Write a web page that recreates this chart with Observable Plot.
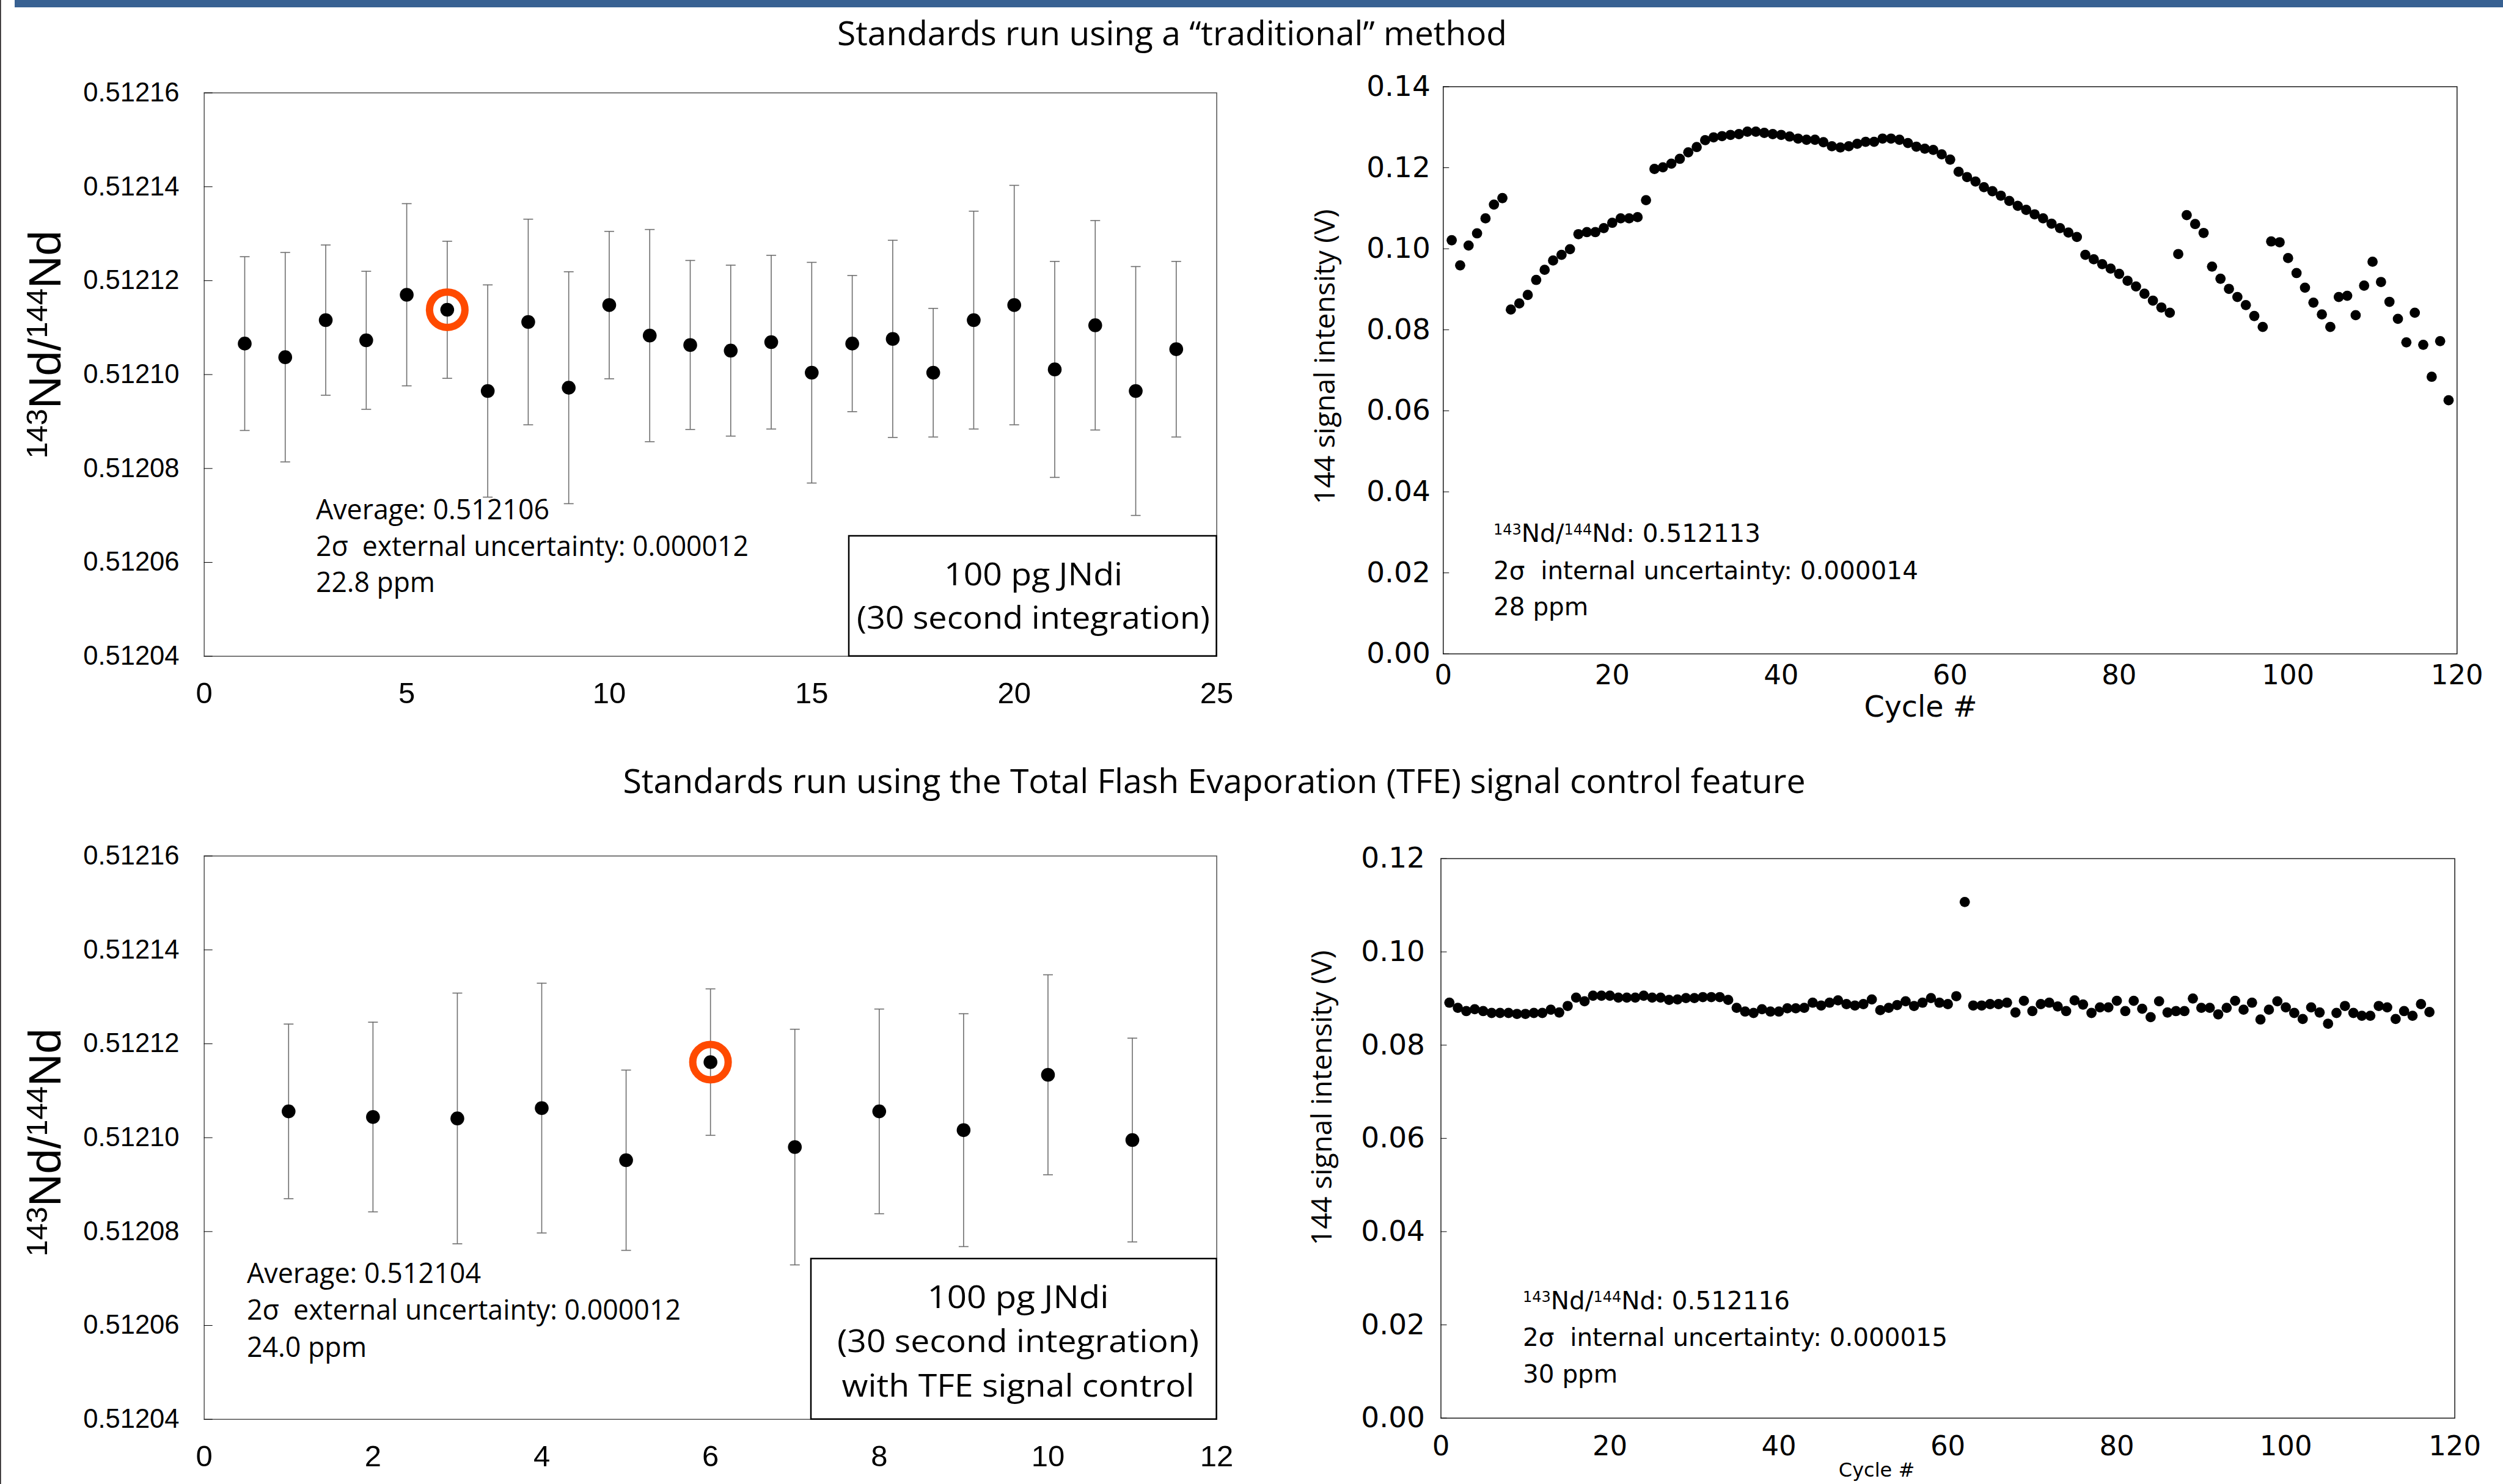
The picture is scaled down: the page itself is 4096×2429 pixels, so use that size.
<!DOCTYPE html>
<html><head><meta charset="utf-8">
<script src="https://cdn.jsdelivr.net/npm/d3@7"></script>
<script src="https://cdn.jsdelivr.net/npm/@observablehq/plot@0.6"></script>
<style>
html,body{margin:0;padding:0;background:#fff;}
#page{position:relative;width:4096px;height:2429px;overflow:hidden;background:#fff;}
</style></head><body><div id="page"></div>
<script>
// ---------------- DATA ----------------
const topRuns = [1,2,3,4,5,6,7,8,9,10,11,12,13,14,15,16,17,18,19,20,21,22,23,24];
const topRatio = [0.5121066,0.5121037,0.5121116,0.5121073,0.5121170,0.5121138,0.5120965,0.5121112,0.5120972,0.5121148,0.5121083,0.5121063,0.5121051,0.5121069,0.5121004,0.5121066,0.5121076,0.5121004,0.5121116,0.5121148,0.5121011,0.5121105,0.5120965,0.5121054];
const topErr = [0.0000185,0.0000223,0.0000160,0.0000147,0.0000194,0.0000146,0.0000226,0.0000219,0.0000247,0.0000157,0.0000226,0.0000180,0.0000182,0.0000185,0.0000235,0.0000145,0.0000210,0.0000137,0.0000232,0.0000255,0.0000230,0.0000223,0.0000265,0.0000187];
const topHighlightRun = 6;

const bottomRuns = [1,2,3,4,5,6,7,8,9,10,11];
const bottomRatio = [0.5121056,0.5121044,0.5121041,0.5121063,0.5120952,0.5121161,0.5120980,0.5121056,0.5121016,0.5121134,0.5120995];
const bottomErr = [0.0000186,0.0000202,0.0000267,0.0000266,0.0000192,0.0000156,0.0000251,0.0000218,0.0000248,0.0000213,0.0000217];
const bottomHighlightRun = 6;

const topSignal = [
 0.1021,0.0959,0.1008,0.1038,0.1075,0.1109,0.1125,
 0.0850,0.0865,0.0886,0.0923,0.0948,0.0971,0.0985,0.0999,0.1036,0.1041,0.1041,0.1051,0.1064,0.1075,0.1075,0.1078,0.1120,
 0.1197,0.1201,0.1210,0.1222,0.1238,0.1251,0.1268,0.1275,0.1278,0.1281,0.1283,0.1289,0.1289,0.1286,0.1283,0.1281,
 0.1277,0.1272,0.1269,0.1269,0.1263,0.1253,0.1250,0.1253,0.1259,0.1264,0.1264,0.1272,0.1272,0.1269,0.1261,0.1252,0.1247,0.1244,0.1233,0.1220,
 0.1190,0.1177,0.1166,0.1152,0.1142,0.1131,0.1118,0.1106,0.1096,0.1085,0.1075,0.1062,0.1051,0.1040,0.1029,
 0.0985,0.0974,0.0962,0.0951,0.0938,0.0921,0.0907,0.0889,0.0872,0.0855,0.0842,
 0.0987,0.1083,0.1061,0.1039,0.0956,0.0926,0.0901,0.0881,0.0861,0.0834,0.0807,
 0.1018,0.1016,0.0977,0.0940,0.0904,0.0867,0.0838,0.0807,0.0881,0.0884,0.0836,0.0909,0.0968,0.0918,0.0869,0.0827,0.0769,0.0842,0.0763,0.0684,0.0772,0.0626];

const bottomSignal = [
 0.0891,0.0880,0.0873,0.0877,0.0873,0.0869,0.0869,0.0869,0.0867,0.0867,0.0869,0.0869,0.0876,0.0870,0.0884,0.0902,0.0894,0.0906,0.0906,0.0906,
 0.0902,0.0902,0.0902,0.0906,0.0902,0.0902,0.0897,0.0898,0.0901,0.0901,0.0903,0.0903,0.0903,0.0897,0.0880,0.0872,0.0869,0.0877,0.0872,0.0872,
 0.0879,0.0879,0.0880,0.0891,0.0885,0.0891,0.0896,0.0888,0.0885,0.0888,0.0898,0.0875,0.0880,0.0886,0.0894,0.0884,0.0891,0.0901,0.0891,0.0888,0.0905,0.1107,
 0.0885,0.0885,0.0888,0.0888,0.0891,0.0870,0.0895,0.0873,0.0888,0.0891,0.0883,0.0873,0.0896,0.0887,0.0869,0.0881,0.0881,0.0895,
 0.0873,0.0895,0.0878,0.0860,0.0894,0.0870,0.0873,0.0873,0.0900,0.0880,0.0880,0.0866,0.0880,0.0895,0.0876,0.0891,0.0855,0.0876,0.0894,0.0881,
 0.0869,0.0856,0.0881,0.0870,0.0846,0.0869,0.0884,0.0869,0.0863,0.0863,0.0884,0.0881,0.0856,0.0873,0.0863,0.0888,0.0871];

const ratioTicks = [0.51204,0.51206,0.51208,0.51210,0.51212,0.51214,0.51216];
const topRunTicks = [0,5,10,15,20,25];
const bottomRunTicks = [0,2,4,6,8,10,12];
const topSignalTicks = [0,0.02,0.04,0.06,0.08,0.10,0.12,0.14];
const bottomSignalTicks = [0,0.02,0.04,0.06,0.08,0.10,0.12];
const cycleTicks = [0,20,40,60,80,100,120];

// ---------------- DRAWING ----------------
const page = document.getElementById("page");
function place(svg, left, top) {
  svg.style.position = "absolute";
  svg.style.left = left + "px";
  svg.style.top = top + "px";
  svg.style.maxWidth = "none";
  page.appendChild(svg);
}
const capSymbol = {draw(ctx, size) { const r = Math.sqrt(size / Math.PI); ctx.moveTo(-r, 0); ctx.lineTo(r, 0); }};
const ARIAL = "'Liberation Sans', Arial, sans-serif";
const DEJA = "'DejaVu Sans', sans-serif";
const OS = "'Open Sans', sans-serif";
const BAR = "#6e6e6e";

function ratioPanel({runs, ratio, err, highlight, xMax, xTicks, width, height, m}) {
  const data = runs.map((r, i) => ({run: r, v: ratio[i], lo: ratio[i] - err[i], hi: ratio[i] + err[i]}));
  return Plot.plot({
    width, height, marginLeft: m[0], marginRight: m[1], marginTop: m[2], marginBottom: m[3],
    x: {domain: [0, xMax], axis: null},
    y: {domain: [0.51204, 0.51216], axis: null},
    style: {background: "transparent", overflow: "visible", color: "#000"},
    marks: [
      Plot.ruleX(data, {x: "run", y1: "lo", y2: "hi", stroke: BAR, strokeWidth: 1.6}),
      Plot.dot(data, {x: "run", y: "lo", symbol: capSymbol, r: 8, fill: "none", stroke: BAR, strokeWidth: 1.6}),
      Plot.dot(data, {x: "run", y: "hi", symbol: capSymbol, r: 8, fill: "none", stroke: BAR, strokeWidth: 1.6}),
      Plot.dot(data, {x: "run", y: "v", r: 11.3, fill: "#000", stroke: "none"}),
      Plot.dot(data.filter(d => d.run === highlight), {x: "run", y: "v", r: 29, fill: "none", stroke: "#ff4a00", strokeWidth: 12}),
      Plot.frame({stroke: "#5a5a5a", strokeWidth: 1.6}),
      Plot.axisY(ratioTicks, {anchor: "left", label: null, tickSize: -14, tickPadding: 54.7, tickFormat: d3.format(".5f"), fontSize: 43.5, fontFamily: ARIAL}),
      Plot.axisX(xTicks, {anchor: "bottom", label: null, tickSize: 0, tickPadding: 42, tickFormat: d3.format("d"), fontSize: 49, fontFamily: ARIAL})
    ]
  });
}

function signalPanel({signal, yMax, yTicks, width, height, m, yPad, xPad}) {
  const data = signal.map((v, i) => ({cycle: i + 1, v}));
  return Plot.plot({
    width, height, marginLeft: m[0], marginRight: m[1], marginTop: m[2], marginBottom: m[3],
    x: {domain: [0, 120], axis: null},
    y: {domain: [0, yMax], axis: null},
    style: {background: "transparent", overflow: "visible", color: "#000"},
    marks: [
      Plot.dot(data, {x: "cycle", y: "v", r: 8.4, fill: "#000", stroke: "none"}),
      Plot.frame({stroke: "#1a1a1a", strokeWidth: 1.5}),
      Plot.axisY(yTicks, {anchor: "left", label: null, tickSize: -10, tickPadding: yPad + 10, tickFormat: d3.format(".2f"), fontSize: 47, fontFamily: DEJA}),
      Plot.axisX(cycleTicks, {anchor: "bottom", label: null, tickSize: 0, tickPadding: xPad, tickFormat: d3.format("d"), fontSize: 45, fontFamily: DEJA})
    ]
  });
}

place(ratioPanel({runs: topRuns, ratio: topRatio, err: topErr, highlight: topHighlightRun, xMax: 25, xTicks: topRunTicks,
  width: 2060, height: 1100, m: [333.7, 69.4, 51.5, 126.3]}), 0, 100);
place(ratioPanel({runs: bottomRuns, ratio: bottomRatio, err: bottomErr, highlight: bottomHighlightRun, xMax: 12, xTicks: bottomRunTicks,
  width: 2060, height: 1099, m: [333.7, 69.4, 70.6, 106.3]}), 0, 1330);
place(signalPanel({signal: topSignal, yMax: 0.14, yTicks: topSignalTicks, width: 2036, height: 1100,
  m: [301.3, 75.7, 41.4, 130.2], yPad: 21, xPad: 17.6}), 2060, 100);
place(signalPanel({signal: bottomSignal, yMax: 0.12, yTicks: bottomSignalTicks, width: 2036, height: 1099,
  m: [297.5, 79.4, 74.9, 108.3], yPad: 26, xPad: 28.6}), 2060, 1330);

// ---------------- OVERLAY TEXT ----------------
const ov = d3.create("svg").attr("width", 4096).attr("height", 2429)
  .style("position", "absolute").style("left", "0px").style("top", "0px").style("pointer-events", "none");
ov.append("rect").attr("x", 0).attr("y", 0).attr("width", 1.6).attr("height", 2429).attr("fill", "#231f20");
ov.append("rect").attr("x", 24).attr("y", 0).attr("width", 4072).attr("height", 12).attr("fill", "#386192");

function txt(s, x, y, size, family, anchor = "start", len = null) {
  const t = ov.append("text").attr("x", x).attr("y", y).attr("font-size", size).attr("font-family", family)
    .attr("text-anchor", anchor).attr("fill", "#000").style("white-space", "pre").text(s);
  if (len) t.attr("textLength", len).attr("lengthAdjust", "spacingAndGlyphs");
  return t;
}
// section titles
txt("Standards run using a \u201Ctraditional\u201D method", 1918, 74, 54, OS, "middle", 1096);
txt("Standards run using the Total Flash Evaporation (TFE) signal control feature", 1987, 1298, 54, OS, "middle", 1935);

// boxes
function box(x, y, w, h) {
  ov.append("rect").attr("x", x).attr("y", y).attr("width", w).attr("height", h)
    .attr("fill", "#fff").attr("stroke", "#000").attr("stroke-width", 2.5);
}
box(1389, 877, 601.6, 196.7);
txt("100 pg JNdi", 1691, 958, 52, OS, "middle", 292);
txt("(30 second integration)", 1691, 1029, 52, OS, "middle", 578);
box(1327, 2060, 663.6, 262.7);
txt("100 pg JNdi", 1666, 2141, 52, OS, "middle", 297);
txt("(30 second integration)", 1666, 2213, 52, OS, "middle", 592);
txt("with TFE signal control", 1666, 2286, 52, OS, "middle", 577);

// left annotations
txt("Average: 0.512106", 517, 850, 46, OS, "start", 382);
txt("2\u03C3  external uncertainty: 0.000012", 517, 910, 46, OS, "start", 708);
txt("22.8 ppm", 517, 969, 46, OS, "start", 195);
txt("Average: 0.512104", 404, 2100, 46, OS, "start", 383);
txt("2\u03C3  external uncertainty: 0.000012", 404, 2160, 46, OS, "start", 710);
txt("24.0 ppm", 404, 2220.5, 46, OS, "start", 196);

// right annotations
function isoLine(x, y, value) {
  const t = ov.append("text").attr("x", x).attr("y", y).attr("font-size", 40.5).attr("font-family", DEJA).attr("fill", "#000");
  t.append("tspan").attr("font-size", 24).attr("dy", -12).text("143");
  t.append("tspan").attr("dy", 12).text("Nd/");
  t.append("tspan").attr("font-size", 24).attr("dy", -12).text("144");
  t.append("tspan").attr("dy", 12).text("Nd: " + value);
}
isoLine(2444, 887, "0.512113");
txt("2\u03C3  internal uncertainty: 0.000014", 2444, 948, 40.5, DEJA);
txt("28 ppm", 2444, 1007, 40.5, DEJA);
isoLine(2492, 2143, "0.512116");
txt("2\u03C3  internal uncertainty: 0.000015", 2492, 2203, 40.5, DEJA);
txt("30 ppm", 2492, 2263, 40.5, DEJA);

// axis titles
function ratioTitle(x, y) {
  const t = ov.append("text").attr("transform", `translate(${x},${y}) rotate(-90)`).attr("text-anchor", "middle")
    .attr("font-family", ARIAL).attr("font-size", 74).attr("fill", "#000");
  t.append("tspan").attr("font-size", 49).attr("dy", -22).text("143");
  t.append("tspan").attr("dy", 22).text("Nd/");
  t.append("tspan").attr("font-size", 49).attr("dy", -22).text("144");
  t.append("tspan").attr("dy", 22).text("Nd");
}
ratioTitle(99, 564);
ratioTitle(99, 1870);
function sigTitle(x, y) {
  ov.append("text").attr("transform", `translate(${x},${y}) rotate(-90)`).attr("text-anchor", "middle")
    .attr("font-family", OS).attr("font-size", 46).attr("fill", "#000")
    .attr("textLength", 483).attr("lengthAdjust", "spacingAndGlyphs").text("144 signal intensity (V)");
}
sigTitle(2184, 584);
sigTitle(2179, 1797);
txt("Cycle #", 3143, 1173, 47.6, DEJA, "middle");
txt("Cycle #", 3071, 2417, 32, DEJA, "middle");

page.appendChild(ov.node());
</script>
</body></html>
